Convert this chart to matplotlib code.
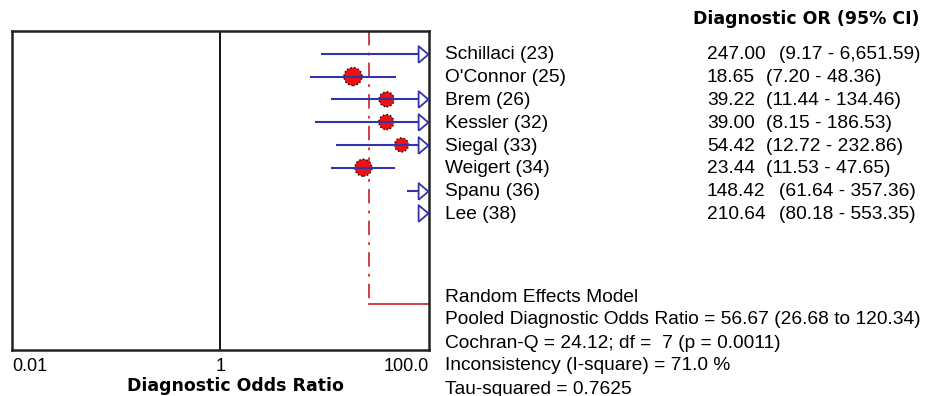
import matplotlib
matplotlib.use("Agg")
import matplotlib.pyplot as plt
from matplotlib.transforms import blended_transform_factory
import numpy as np

plt.rcParams['font.family'] = ['Liberation Sans', 'DejaVu Sans']

studies = ["Schillaci (23)", "O'Connor (25)", "Brem (26)", "Kessler (32)",
           "Siegal (33)", "Weigert (34)", "Spanu (36)", "Lee (38)"]
dor = [247.00, 18.65, 39.22, 39.00, 54.42, 23.44, 148.42, 210.64]
ci_low = [9.17, 7.20, 11.44, 8.15, 12.72, 11.53, 61.64, 80.18]
ci_high = [6651.59, 48.36, 134.46, 186.53, 232.86, 47.65, 357.36, 553.35]
ci_text = ["(9.17 - 6,651.59)", "(7.20 - 48.36)", "(11.44 - 134.46)", "(8.15 - 186.53)",
           "(12.72 - 232.86)", "(11.53 - 47.65)", "(61.64 - 357.36)", "(80.18 - 553.35)"]
pooled = 56.67
pooled_low = 26.68
pooled_high = 120.34
stats_lines = ["Random Effects Model",
               "Pooled Diagnostic Odds Ratio = 56.67 (26.68 to 120.34)",
               "Cochran-Q = 24.12; df =  7 (p = 0.0011)",
               "Inconsistency (I-square) = 71.0 %",
               "Tau-squared = 0.7625"]
xticks = [0.01, 1, 100]
xticklabels = ["0.01", "1", "100.0"]

# style: marker diameters (px) ~ study weights
marker_px = [18, 18, 15, 15, 14, 17, 15, 15]

W, H = 933, 396
fig = plt.figure(figsize=(W / 100, H / 100), dpi=100)
ax = fig.add_axes([12 / W, 1 - 350 / H, 417 / W, 319 / H])
ax.set_xscale('log')
xmin, xmax = 0.01, 100
ax.set_xlim(xmin, xmax)
ax.set_ylim(13, -1)
for s in ax.spines.values():
    s.set_linewidth(1.8)
    s.set_color('#222222')
ax.set_yticks([])
ax.set_xticks(xticks)
ax.set_xticklabels(xticklabels, fontsize=13)
ax.minorticks_off()
ax.tick_params(axis='x', length=0, pad=6)
labs = ax.get_xticklabels()
labs[0].set_ha('left')
labs[-1].set_ha('right')
bold_font = dict(family=['DejaVu Sans'], fontweight='bold', fontsize=12.5)
fig.text(235 / W, 1 - 386 / H, "Diagnostic Odds Ratio", ha='center', va='center', **bold_font)

ax.axvline(1, color='black', lw=1.3, zorder=1)

blue = '#3333aa'
arrow_marker = [(-5, -8.5), (5, 0), (-5, 8.5), (-5, -8.5)]
trans_ax = blended_transform_factory(ax.transAxes, ax.transData)
for i, (d, lo, hi) in enumerate(zip(dor, ci_low, ci_high)):
    right = min(hi, xmax)
    ax.plot([lo, right], [i, i], color=blue, lw=1.5, zorder=4, solid_capstyle='butt')
    if d <= xmax:
        ax.scatter([d], [i], s=(marker_px[i] * 0.72) ** 2, facecolor='#ee1111',
                   edgecolor='black', linewidths=1.0, linestyles='dotted', zorder=3)
    if hi > xmax:
        ax.plot([0.986], [i], marker=arrow_marker, markersize=12, markerfacecolor='white',
                markeredgecolor=blue, markeredgewidth=1.3, transform=trans_ax,
                clip_on=False, zorder=5, linestyle='none')

# pooled estimate
prow = 11
ax.plot([pooled_low, pooled_low], [-1, prow], color='#cc3333', lw=1.3,
        linestyle=(0, (8, 4, 1.5, 4)), zorder=2)
ax.plot([pooled_low, min(pooled_high, xmax)], [prow, prow], color='#cc3333', lw=1.3, zorder=2)

# right-side text
tr = blended_transform_factory(fig.transFigure, ax.transData)
fs = 13.8
for i, name in enumerate(studies):
    fig.text(445 / W, i + 0.05, name, transform=tr, fontsize=fs, va='center', ha='left')
    fig.text(707 / W, i + 0.05, f"{dor[i]:.2f}", transform=tr, fontsize=fs, va='center', ha='left')
    gap = 779 if dor[i] >= 100 else 766
    fig.text(gap / W, i + 0.05, ci_text[i], transform=tr, fontsize=fs, va='center', ha='left')

fig.text(806 / W, 1 - 19 / H, "Diagnostic OR (95% CI)", ha='center', va='center', **bold_font)

for k, line in enumerate(stats_lines):
    y = 297 + 23 * k
    fig.text(445 / W, 1 - y / H, line, fontsize=fs, ha='left', va='center')

fig.savefig("out.png", dpi=100, facecolor='white')
